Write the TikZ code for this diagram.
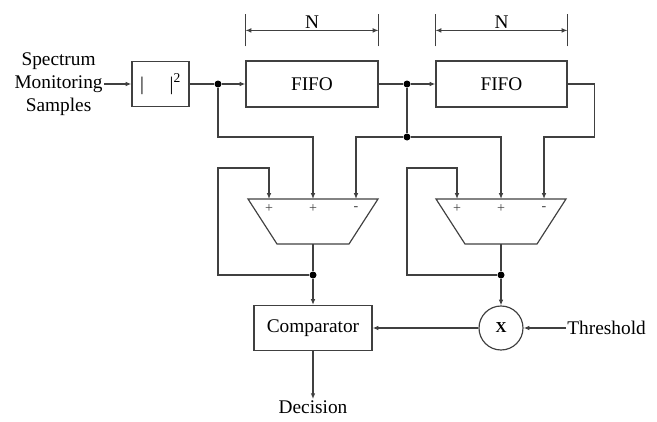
\documentclass[tikz,border=0pt]{standalone}
\usepackage{fontspec}
\setmainfont{Liberation Serif}
\newfontfamily\diagfont{Liberation Serif}
\usepackage{tikz}
\usetikzlibrary{positioning, arrows.meta, calc}
\tikzset{
    block/.style={
        rectangle,
        draw=black!75,
        line width=1pt,
        inner sep=0pt
    },
    dot/.style={
        circle,
        fill=black,
        inner sep=0pt,
        minimum size=0.21cm
    },
    wire/.style={
        draw=black!75,
        line width=1pt
    },
    arr/.style={
        wire,
        -{Latex[length=5pt,width=4pt]}
    }
}

\begin{document}
\begin{tikzpicture}[
        x=0.03cm, y=-0.03cm,
        every node/.style={font=\diagfont\fontsize{16.5}{19.5}\selectfont},
        sign/.style={font=\diagfont\fontsize{12}{12}\selectfont, inner sep=0pt, text=black!75},
        label/.style={inner sep=1pt, align=center}
      ]
      \useasboundingbox (0,0) rectangle (657,421);

      \node[label, anchor=east] (src) at (104,84) {Spectrum\\Monitoring\\Samples};
      \node[block, minimum width=57*0.03cm, minimum height=45*0.03cm] (sq) at (160.5,84)
        {|\hspace{22pt}|\textsuperscript{2}};
      \node[block, minimum width=132*0.03cm, minimum height=46*0.03cm] (fifo1) at (312,84) {FIFO};
      \node[block, minimum width=131*0.03cm, minimum height=46*0.03cm] (fifo2) at (501.5,84) {FIFO};
      \node[dot] (d1) at (218,84) {};
      \node[dot] (d2) at (407,84) {};
      \node[dot] (d3) at (407,137) {};

      \foreach \f in {fifo1,fifo2} {
        \draw[wire] ($(\f.north west)+(0,-14)$) -- ++(0,-32);
        \draw[wire] ($(\f.north east)+(0,-14)$) -- ++(0,-32);
        \draw[wire, {Latex[length=5pt,width=4pt]}-{Latex[length=5pt,width=4pt]}]
          ($(\f.north west)+(0,-30)$) -- ($(\f.north east)+(0,-30)$)
          node[midway, above=1pt, inner sep=0pt] (\f-n) {N};
      }

      \foreach \n/\c in {s1/313, s2/501} {
        \draw[wire] (\c-65,199) -- (\c+65,199) -- (\c+36,244) -- (\c-36,244) -- cycle;
        \coordinate (\n-a) at (\c-44,199);
        \coordinate (\n-b) at (\c,199);
        \coordinate (\n-c) at (\c+43,199);
        \coordinate (\n-o) at (\c,244);
        \node[sign] (\n-pa) at (\c-44,209) {+};
        \node[sign] (\n-pb) at (\c,209) {+};
        \node[sign] (\n-pc) at (\c+43,209) {-};
      }

      \node[dot] (d4) at (313,275) {};
      \node[dot] (d5) at (501,275) {};
      \node[block, minimum width=118*0.03cm, minimum height=45*0.03cm] (comp) at (313,328) {Comparator};
      \node[circle, draw=black!75, line width=1pt, minimum size=44*0.03cm, inner sep=0pt] (mul) at (501,328)
        {\fontsize{13}{13}\selectfont\bfseries X};
      \node[label, anchor=west] (thr) at (566,328) {Threshold};
      \node[label] (dec) at (313,407) {Decision};

      \draw[arr] (src) -- (sq);
      \draw[wire] (sq) -- (d1);
      \draw[arr] (d1) -- (fifo1);
      \draw[wire] (fifo1) -- (d2);
      \draw[arr] (d2) -- (fifo2);
      \draw[wire] (d2) -- (d3);
      \draw[arr] (d1) |- (s1-b |- d3) -- (s1-b);
      \draw[arr] (d3) -| (s1-c);
      \draw[arr] (d3) -| (s2-b);
      \draw[arr] (fifo2.east) -| ++(27,53) -| (s2-c);

      \draw[wire] (s1-o) -- (d4);
      \draw[arr] (d4) -| ($(s1-a)+(-51,-31)$) -| (s1-a);
      \draw[arr] (d4) -- (comp);
      \draw[wire] (s2-o) -- (d5);
      \draw[arr] (d5) -| ($(s2-a)+(-50,-31)$) -| (s2-a);
      \draw[arr] (d5) -- (mul);

      \draw[arr] (thr) -- (mul);
      \draw[arr] (mul) -- (comp);
      \draw[arr] (comp) -- (dec);
    \end{tikzpicture}
\end{document}
